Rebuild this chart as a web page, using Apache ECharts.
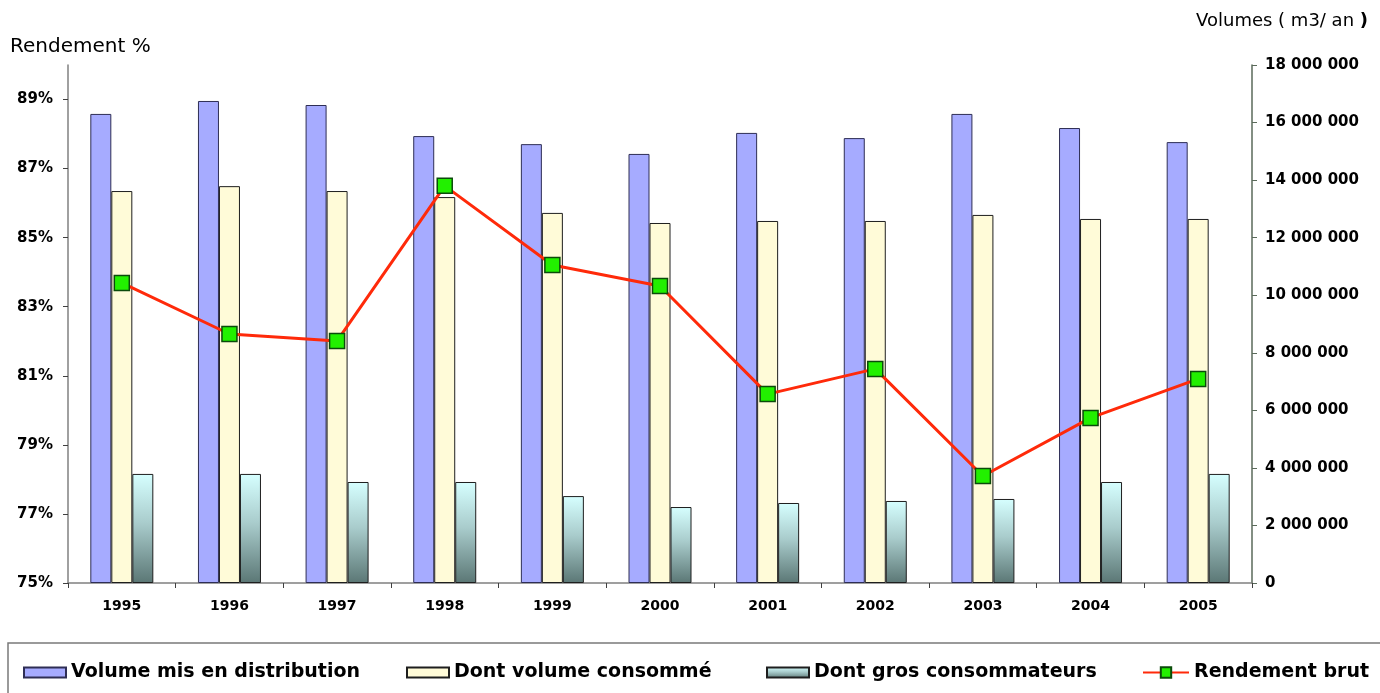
<!DOCTYPE html>
<html>
<head>
<meta charset="utf-8">
<script src="https://cdn.jsdelivr.net/npm/echarts@6/dist/echarts.min.js"></script>
<style>
  html, body { margin: 0; padding: 0; background: #ffffff; }
  #chart { width: 1380px; height: 693px; }
</style>
</head>
<body>
<div id="chart"></div>
<script>
// Years shown on the category axis
const years = ['1995', '1996', '1997', '1998', '1999', '2000', '2001', '2002', '2003', '2004', '2005'];

// Volumes in m3 per year (right axis)
const volumeDistribue = [16300000, 16750000, 16610000, 15530000, 15250000, 14910000, 15640000, 15460000, 16300000, 15810000, 15320000];
const volumeConsomme = [13620000, 13790000, 13620000, 13410000, 12860000, 12510000, 12580000, 12580000, 12790000, 12650000, 12650000];
const grosConsommateurs = [3790000, 3790000, 3510000, 3510000, 3020000, 2640000, 2780000, 2850000, 2920000, 3510000, 3790000];

// Gross network efficiency in % (left axis)
const rendementBrut = [83.69, 82.21, 82.01, 86.50, 84.21, 83.60, 80.47, 81.20, 78.10, 79.78, 80.91];

const seriesNames = ['Volume mis en distribution', 'Dont volume consommé', 'Dont gros consommateurs', 'Rendement brut'];

const chart = echarts.init(document.getElementById('chart'), null, { renderer: 'canvas' });

const tickFont = { fontFamily: 'DejaVu Sans', fontWeight: 'bold', color: '#000' };
const legendText = { fontFamily: 'DejaVu Sans', fontWeight: 'bold', fontSize: 19, color: '#000' };

function spaced(v) {
  return String(Math.round(v)).replace(/\B(?=(\d{3})+(?!\d))/g, ' ');
}

function legendAt(left, name, width, height, icon) {
  const l = {
    data: [name],
    left: left,
    top: 663,
    itemWidth: width,
    itemHeight: height,
    itemGap: 0,
    padding: 0,
    textStyle: legendText,
    selectedMode: false
  };
  if (icon) l.icon = icon;
  return l;
}

const option = {
  backgroundColor: '#ffffff',
  animation: false,
  grid: { left: 68, right: 128, top: 65, bottom: 110 },
  legend: [
    legendAt(23, seriesNames[0], 42, 10, 'rect'),
    legendAt(406, seriesNames[1], 42, 10, 'rect'),
    legendAt(766, seriesNames[2], 42, 10, 'rect'),
    legendAt(1142, seriesNames[3], 46, 13)
  ],
  graphic: [
    {
      type: 'text', left: 10, top: 37,
      style: { text: 'Rendement %', font: '20px "DejaVu Sans"', fill: '#000' }
    },
    {
      type: 'text', right: 12, top: 12,
      style: {
        text: '{n|Volumes ( m3/ an }{b|)}',
        rich: {
          n: { fontFamily: 'DejaVu Sans', fontSize: 18, fill: '#000', color: '#000' },
          b: { fontFamily: 'DejaVu Sans', fontSize: 18, fontWeight: 'bold', fill: '#000', color: '#000' }
        }
      }
    },
    {
      type: 'rect', shape: { x: 8, y: 643, width: 1400, height: 70 },
      style: { fill: 'none', stroke: '#7a7a7a', lineWidth: 1.5 }, silent: true
    }
  ],
  xAxis: {
    type: 'category',
    data: years,
    boundaryGap: true,
    axisLine: { lineStyle: { color: '#808080', width: 1.5 } },
    axisTick: { show: true, length: 5, lineStyle: { color: '#404040' } },
    axisLabel: Object.assign({ fontSize: 14, margin: 16 }, tickFont),
    splitLine: { show: false }
  },
  yAxis: [
    {
      type: 'value',
      position: 'left',
      min: 75, max: 90, interval: 2,
      axisLine: { show: true, lineStyle: { color: '#808080', width: 1.5 } },
      axisTick: { show: true, length: 5, lineStyle: { color: '#404040' } },
      axisLabel: Object.assign({ fontSize: 15, margin: 15, showMaxLabel: false,
        formatter: v => (v % 2 === 1 ? v + '%' : '') }, tickFont),
      splitLine: { show: false }
    },
    {
      type: 'value',
      position: 'right',
      min: 0, max: 18000000, interval: 2000000,
      axisLine: { show: true, lineStyle: { color: '#5a6a5a', width: 1.5 } },
      axisTick: { show: true, length: 5, lineStyle: { color: '#5a6a5a' } },
      axisLabel: Object.assign({ fontSize: 15, margin: 13, formatter: v => spaced(v) }, tickFont),
      splitLine: { show: false }
    }
  ],
  series: [
    {
      name: seriesNames[0], type: 'bar', yAxisIndex: 1, barWidth: 21, barGap: '0%',
      data: volumeDistribue,
      itemStyle: { color: '#a6abff', borderColor: '#2e2e55', borderWidth: 1 }
    },
    {
      name: seriesNames[1], type: 'bar', yAxisIndex: 1, barWidth: 21, barGap: '0%',
      data: volumeConsomme,
      itemStyle: { color: '#fffbd8', borderColor: '#1e1e1e', borderWidth: 1 }
    },
    {
      name: seriesNames[2], type: 'bar', yAxisIndex: 1, barWidth: 21, barGap: '0%',
      data: grosConsommateurs,
      itemStyle: {
        color: new echarts.graphic.LinearGradient(0, 0, 0, 1, [
          { offset: 0, color: '#d6ffff' },
          { offset: 0.45, color: '#a9cccc' },
          { offset: 1, color: '#5b7775' }
        ]),
        borderColor: '#1e1e1e', borderWidth: 1
      }
    },
    {
      name: seriesNames[3], type: 'line', yAxisIndex: 0, z: 5,
      data: rendementBrut,
      symbol: 'rect', symbolSize: 15,
      lineStyle: { color: '#ff2a0a', width: 3 },
      itemStyle: { color: '#22f000', borderColor: '#0b4a0b', borderWidth: 1.5 }
    }
  ]
};

chart.setOption(option);
</script>
</body>
</html>
